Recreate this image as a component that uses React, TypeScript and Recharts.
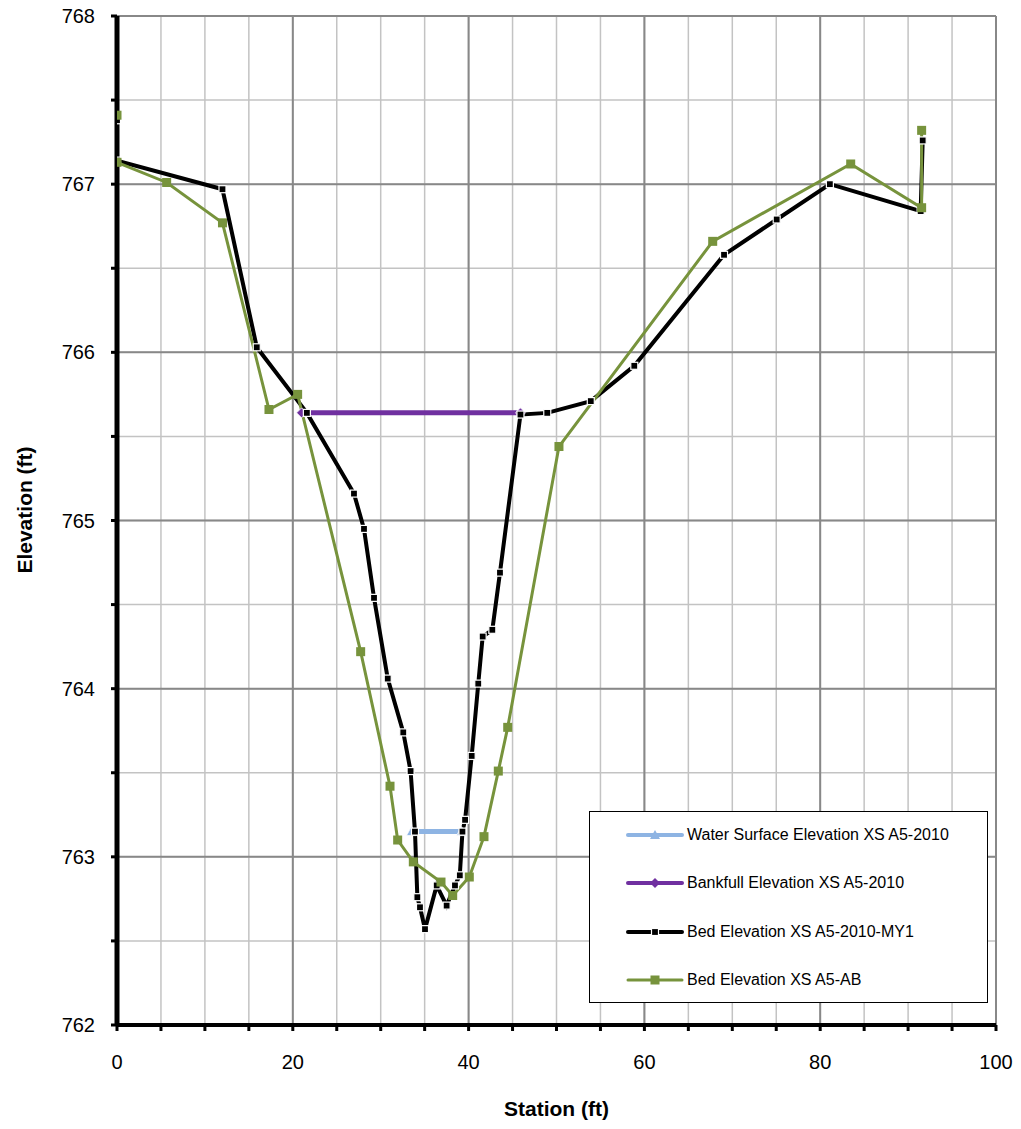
import { LineChart, Line, XAxis, YAxis, CartesianGrid, ReferenceLine, Label } from "recharts";

// Station (ft) / Elevation (ft)
const waterX = [33.5, 39.2];
const waterY = [763.15, 763.15];

const bankfullX = [21.0, 45.9];
const bankfullY = [765.64, 765.64];

const bedMy1X = [
  0, 0, 12.0, 15.9, 21.6, 26.96, 28.1, 29.24, 30.8, 32.57, 33.4, 33.9, 34.17, 34.47, 35.04,
  36.37, 37.5, 38.45, 39.0, 39.3, 39.6, 40.35, 41.1, 41.6, 42.7, 43.57, 45.9, 48.95, 53.9,
  58.85, 69.06, 75.05, 81.1, 91.43, 91.66,
];
const bedMy1Y = [
  767.38, 767.14, 766.97, 766.03, 765.64, 765.16, 764.95, 764.54, 764.06, 763.74, 763.51,
  763.15, 762.76, 762.7, 762.57, 762.83, 762.71, 762.83, 762.89, 763.15, 763.22, 763.6,
  764.03, 764.31, 764.35, 764.69, 765.63, 765.64, 765.71, 765.92, 766.58, 766.79, 767.0,
  766.84, 767.26,
];

const bedAbX = [
  0, 0, 5.65, 12.0, 17.29, 20.55, 27.72, 31.06, 31.93, 33.71, 36.86, 38.19, 40.08, 41.75,
  43.38, 44.45, 50.28, 67.77, 83.47, 91.54, 91.54,
];
const bedAbY = [
  767.41, 767.13, 767.01, 766.77, 765.66, 765.75, 764.22, 763.42, 763.1, 762.97, 762.85,
  762.77, 762.88, 763.12, 763.51, 763.77, 765.44, 766.66, 767.12, 766.86, 767.32,
];

const xTicks = [0, 5, 10, 15, 20, 25, 30, 35, 40, 45, 50, 55, 60, 65, 70, 75, 80, 85, 90, 95, 100];
const xMajor = [20, 40, 60, 80, 100];
const yTicks = [762, 762.5, 763, 763.5, 764, 764.5, 765, 765.5, 766, 766.5, 767, 767.5, 768];
const yMajor = [763, 764, 765, 766, 767, 768];

const zip = (xs: number[], ys: number[]) => xs.map((x, i) => ({ x, y: ys[i] }));

const water = zip(waterX, waterY);
const bankfull = zip(bankfullX, bankfullY);
const bedMy1 = zip(bedMy1X, bedMy1Y);
const bedAb = zip(bedAbX, bedAbY);

const BLUE = "#8EB4E3";
const PURPLE = "#7030A0";
const GREEN = "#77933C";
const FONT = "'Liberation Sans', Arial, sans-serif";

const legendItems = [
  { name: "Water Surface Elevation XS A5-2010", color: BLUE, marker: "tri" },
  { name: "Bankfull Elevation XS A5-2010", color: PURPLE, marker: "diamond" },
  { name: "Bed Elevation XS A5-2010-MY1", color: "#000", marker: "small" },
  { name: "Bed Elevation XS A5-AB", color: GREEN, marker: "square" },
];

const SquareDot = ({ cx, cy, index, size, fill, stroke }: any) => {
  if (cx == null || cy == null) return null;
  return (
    <rect
      key={index}
      x={cx - size / 2}
      y={cy - size / 2}
      width={size}
      height={size}
      fill={fill}
      stroke={stroke}
      strokeWidth={stroke === "none" ? 0 : 1.2}
    />
  );
};

const TriDot = ({ cx, cy, index }: any) => {
  if (cx == null || cy == null) return null;
  return (
    <path
      key={index}
      d={`M${cx},${cy - 5} L${cx + 5},${cy + 4} L${cx - 5},${cy + 4} Z`}
      fill={BLUE}
      stroke="#fff"
      strokeWidth={0.8}
    />
  );
};

const DiamondDot = ({ cx, cy, index }: any) => {
  if (cx == null || cy == null) return null;
  return (
    <path
      key={index}
      d={`M${cx},${cy - 5} L${cx + 5},${cy} L${cx},${cy + 5} L${cx - 5},${cy} Z`}
      fill={PURPLE}
      stroke="#fff"
      strokeWidth={0.8}
    />
  );
};

const LegendSample = ({ color, marker }: { color: string; marker: string }) => (
  <svg width={58} height={12} style={{ display: "block" }}>
    <line x1={2} y1={6} x2={56} y2={6} stroke={color} strokeWidth={marker === "square" ? 3 : 4} strokeLinecap="round" />
    {marker === "tri" && <path d="M29,1 L34,10 L24,10 Z" fill={color} />}
    {marker === "diamond" && <path d="M29,1 L34,6 L29,11 L24,6 Z" fill={color} />}
    {marker === "small" && <rect x={25.5} y={2.5} width={7} height={7} fill="#000" stroke="#fff" strokeWidth={1.2} />}
    {marker === "square" && <rect x={24.5} y={1.5} width={9} height={9} fill={color} />}
  </svg>
);

export default function App() {
  return (
    <div style={{ position: "relative", width: 1021, height: 1129, margin: -8, background: "#fff" }}>
      <LineChart
        width={1021}
        height={1129}
        margin={{ top: 16, right: 25, left: 17, bottom: 44 }}
      >
        <CartesianGrid stroke="#C3C3C3" strokeWidth={1.5} />
        {xMajor.map((v) => (
          <ReferenceLine key={`x${v}`} x={v} stroke="#888" strokeWidth={2} />
        ))}
        {yMajor.map((v) => (
          <ReferenceLine key={`y${v}`} y={v} stroke="#888" strokeWidth={2} />
        ))}
        <XAxis
          type="number"
          dataKey="x"
          domain={[0, 100]}
          ticks={xTicks}
          interval={0}
          height={60}
          allowDataOverflow
          axisLine={{ stroke: "#000", strokeWidth: 4 }}
          tickLine={{ stroke: "#000", strokeWidth: 3 }}
          tickSize={6}
          tickMargin={24}
          tickFormatter={(v: number) => (v % 20 === 0 ? String(v) : "")}
          tick={{ fontSize: 20, fill: "#000", fontFamily: FONT }}
        >
          <Label
            content={({ viewBox }: any) => (
              <text
                x={viewBox.x + viewBox.width / 2}
                y={viewBox.y + 91}
                textAnchor="middle"
                fontSize={21}
                fontWeight="bold"
                fontFamily={FONT}
                fill="#000"
              >
                Station (ft)
              </text>
            )}
          />
        </XAxis>
        <YAxis
          type="number"
          domain={[762, 768]}
          ticks={yTicks}
          interval={0}
          width={100}
          allowDataOverflow
          axisLine={{ stroke: "#000", strokeWidth: 5 }}
          tickLine={{ stroke: "#000", strokeWidth: 3 }}
          tickSize={6}
          tickMargin={16}
          tickFormatter={(v: number) => (Number.isInteger(v) ? String(v) : "")}
          tick={{ fontSize: 20, fill: "#000", fontFamily: FONT }}
        >
          <Label
            content={() => (
              <text
                x={32}
                y={510}
                transform="rotate(-90 32 510)"
                textAnchor="middle"
                fontSize={21}
                fontWeight="bold"
                fontFamily={FONT}
                fill="#000"
              >
                Elevation (ft)
              </text>
            )}
          />
        </YAxis>
        <Line
          data={water}
          dataKey="y"
          name="Water Surface Elevation XS A5-2010"
          stroke={BLUE}
          strokeWidth={5}
          dot={<TriDot />}
          isAnimationActive={false}
        />
        <Line
          data={bankfull}
          dataKey="y"
          name="Bankfull Elevation XS A5-2010"
          stroke={PURPLE}
          strokeWidth={5}
          dot={<DiamondDot />}
          isAnimationActive={false}
        />
        <Line
          data={bedMy1}
          dataKey="y"
          name="Bed Elevation XS A5-2010-MY1"
          stroke="#000"
          strokeWidth={4}
          dot={<SquareDot size={7} fill="#000" stroke="#fff" />}
          isAnimationActive={false}
        />
        <Line
          data={bedAb}
          dataKey="y"
          name="Bed Elevation XS A5-AB"
          stroke={GREEN}
          strokeWidth={3}
          dot={<SquareDot size={9} fill={GREEN} stroke="none" />}
          isAnimationActive={false}
        />
      </LineChart>
      <div
        style={{
          position: "absolute",
          left: 589,
          top: 811,
          width: 397,
          height: 190,
          border: "1px solid #000",
          background: "#fff",
          fontFamily: FONT,
          fontSize: 16,
          color: "#000",
        }}
      >
        {legendItems.map((it, i) => (
          <div
            key={it.name}
            style={{ position: "absolute", left: 36, top: 14 + i * 48.3, display: "flex", alignItems: "center", whiteSpace: "nowrap" }}
          >
            <LegendSample color={it.color} marker={it.marker} />
            <span style={{ marginLeft: 3 }}>{it.name}</span>
          </div>
        ))}
      </div>
    </div>
  );
}
